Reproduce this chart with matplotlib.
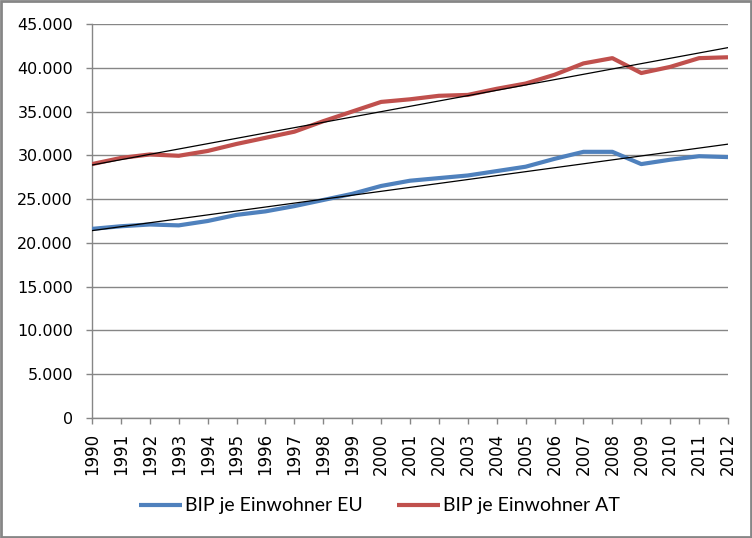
import matplotlib
matplotlib.use("Agg")
import matplotlib.pyplot as plt
import numpy as np
from matplotlib.ticker import FuncFormatter

years = list(range(1990, 2013))
eu = [21600, 21900, 22100, 22000, 22500, 23200, 23600, 24200, 24900, 25600,
      26500, 27100, 27400, 27700, 28200, 28700, 29600, 30400, 30400, 29000,
      29500, 29900, 29800]
at = [29000, 29700, 30100, 29950, 30500, 31300, 32000, 32700, 33900, 35000,
      36100, 36400, 36800, 36900, 37600, 38200, 39200, 40500, 41100, 39400,
      40100, 41100, 41200]
labels = ["BIP je Einwohner EU", "BIP je Einwohner AT"]
yticks = list(range(0, 45001, 5000))

plt.rcParams['font.family'] = ['DejaVu Sans']

fig = plt.figure(figsize=(7.52, 5.38), dpi=100)
ax = fig.add_axes([92/752, 1-418/538, 636/752, 394/538])

x = np.array(years)
ax.plot(x, eu, color="#4F81BD", lw=3.0, label=labels[0], solid_capstyle='butt', zorder=3)
ax.plot(x, at, color="#C0504D", lw=3.0, label=labels[1], solid_capstyle='butt', zorder=3)
for s in (eu, at):
    c = np.polyfit(x, s, 1)
    ax.plot(x, np.polyval(c, x), color="black", lw=0.9, zorder=4)

ax.set_xlim(1990, 2012)
ax.set_ylim(0, 45000)
ax.set_yticks(yticks)
ax.yaxis.set_major_formatter(FuncFormatter(lambda v, p: f"{int(v):,}".replace(",", ".")))
ax.set_xticks(years)
ax.set_xticklabels([str(y) for y in years], rotation=90)
ax.grid(axis='y', color="#868686", lw=1.0)
ax.set_axisbelow(True)
for side in ("top", "right"):
    ax.spines[side].set_visible(False)
for side in ("left", "bottom"):
    ax.spines[side].set_color("#868686")
    ax.spines[side].set_linewidth(1.0)
ax.tick_params(axis='both', color="#868686", length=4.3, width=1.0)
ax.tick_params(axis='y', labelsize=11.5, pad=9.4)
ax.tick_params(axis='x', labelsize=12, pad=6.5)

fig.legend(loc='center', bbox_to_anchor=(379.5/752, 1-506/538), ncol=2, frameon=False,
           prop={'family': 'Lato', 'size': 14},
           handlelength=2.2, columnspacing=1.8, handletextpad=0.15)

border = plt.Rectangle((0.0015, 0.002), 0.997, 0.996, transform=fig.transFigure,
                       fill=False, edgecolor="#868686", lw=2.0)
fig.patches.append(border)

fig.savefig("out.png", dpi=100)
